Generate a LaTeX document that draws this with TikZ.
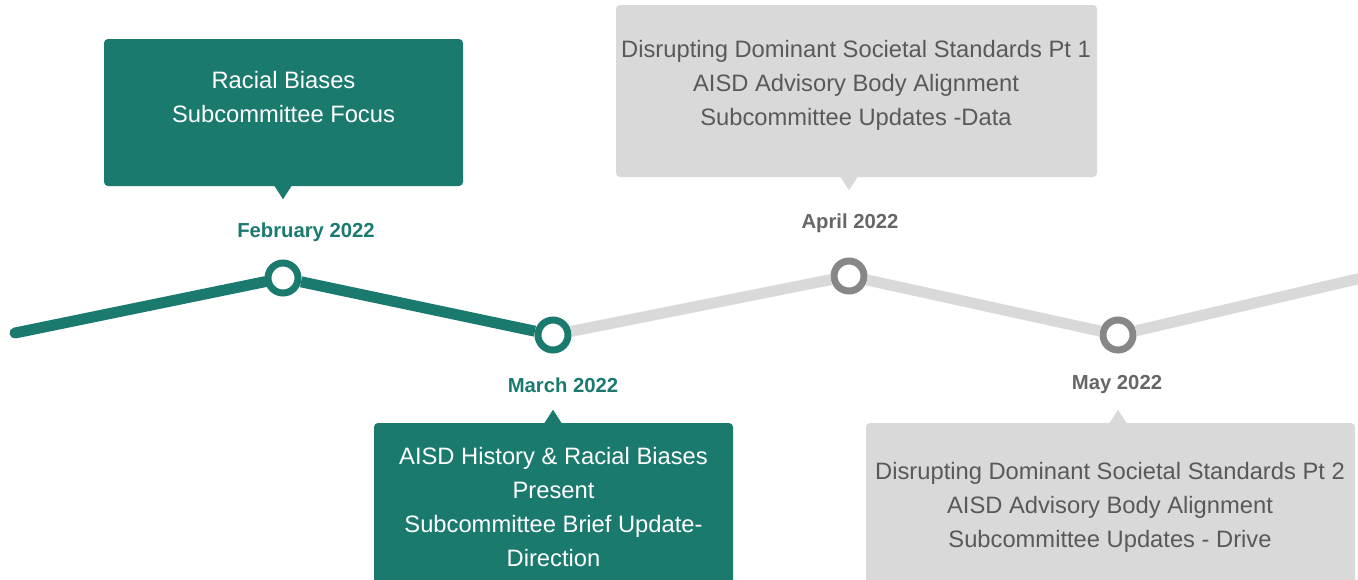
\documentclass[tikz,border=0pt]{standalone}
\usepackage{fontspec}
\setmainfont{Liberation Sans}
\usetikzlibrary{calc}
\definecolor{tgreen}{HTML}{1B7A6E}
\definecolor{tgrayfill}{HTML}{D9D9D9}
\definecolor{tgraytext}{HTML}{595959}
\definecolor{tgrayring}{HTML}{878787}
\definecolor{tgraydate}{HTML}{666666}
\begin{document}
\begin{tikzpicture}[x=0.75pt,y=-0.75pt,
  greenline/.style={draw=tgreen,line width=8.25pt},
  grayline/.style={draw=tgrayfill,line width=8.25pt},
  dot/.style={circle,minimum size=22.5pt,inner sep=0pt,line width=5.25pt,fill=white},
  greendot/.style={dot,draw=tgreen},
  graydot/.style={dot,draw=tgrayring},
  evbox/.style={rounded corners=3pt,inner sep=0pt},
  greenbox/.style={evbox,fill=tgreen},
  graybox/.style={evbox,fill=tgrayfill},
  evtext/.style={align=center,font=\fontsize{17.8}{25.5}\selectfont,inner sep=0pt},
  datelbl/.style={font=\fontsize{15.2}{17}\selectfont\bfseries,inner sep=0pt}
]
\useasboundingbox (0,0) rectangle (1358,579);

% boxes
\node[greenbox,minimum width=269.25pt,minimum height=110.25pt] (febbox) at (283.5,112.5) {};
\node[graybox,minimum width=360.75pt,minimum height=129pt] (aprbox) at (856.5,91) {};
\node[greenbox,minimum width=269.25pt,minimum height=125.25pt] (marbox) at (553.5,506.5) {};
\node[graybox,minimum width=366.75pt,minimum height=125.25pt] (maybox) at (1110.5,506.5) {};

% timeline
\coordinate (start) at (15,333);
\coordinate (finish) at (1370,276);
\node[greendot] (feb) at (283,278) {};
\node[greendot] (mar) at (553,335) {};
\node[graydot] (apr) at (849,276) {};
\node[graydot] (may) at (1118,335) {};
\draw[grayline] (mar) -- (apr) -- (may) -- (finish);
\draw[greenline,line cap=round] (start) -- (feb);
\draw[greenline] (feb) -- (mar);

% pointers
\fill[tgreen] ($(febbox.south -| feb)+(-9,-1)$) -- ++(9,14) -- ++(9,-14) -- cycle;
\fill[tgrayfill] ($(aprbox.south -| apr)+(-9,-1)$) -- ++(9,14) -- ++(9,-14) -- cycle;
\fill[tgreen] ($(marbox.north -| mar)+(-9,1)$) -- ++(9,-14) -- ++(9,14) -- cycle;
\fill[tgrayfill] ($(maybox.north -| may)+(-9,1)$) -- ++(9,-14) -- ++(9,14) -- cycle;

% texts
\node[evtext,text=white] (febtext) at (283.5,97.5) {Racial Biases\\Subcommittee Focus};
\node[evtext,text=tgraytext] (aprtext) at (856,85) {Disrupting Dominant Societal Standards Pt 1\\AISD Advisory Body Alignment\\Subcommittee Updates -Data};
\node[evtext,text=white] (martext) at (553.5,507) {AISD History \& Racial Biases\\Present\\Subcommittee Brief Update-\\Direction};
\node[evtext,text=tgraytext] (maytext) at (1110,507) {Disrupting Dominant Societal Standards Pt 2\\AISD Advisory Body Alignment\\Subcommittee Updates - Drive};

% dates
\node[datelbl,text=tgreen] (febdate) at (306,232) {February 2022};
\node[datelbl,text=tgreen] (mardate) at (563,385) {March 2022};
\node[datelbl,text=tgraydate] (aprdate) at (850,223) {April 2022};
\node[datelbl,text=tgraydate] (maydate) at (1117,385) {May 2022};
\end{tikzpicture}
\end{document}
